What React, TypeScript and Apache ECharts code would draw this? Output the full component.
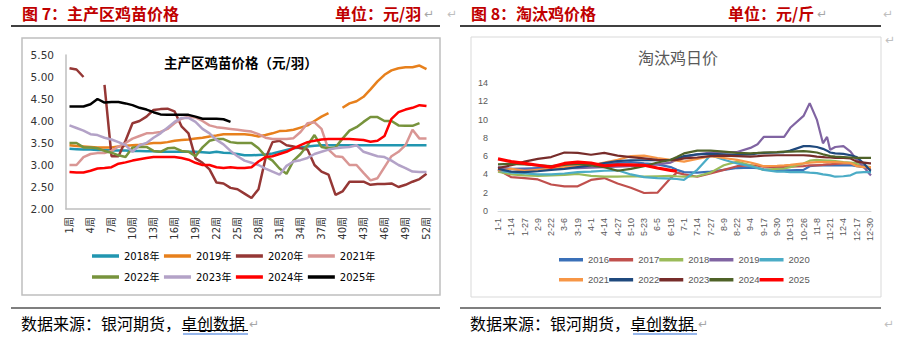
import React, { useEffect, useRef } from "react";
import * as echarts from "echarts";

// ---------- Left chart: 主产区鸡苗价格 (weekly) ----------
const weeks = Array.from({ length: 52 }, (_, i) => `${i + 1}周`);

const y2018 = [3.37, 3.36, 3.35, 3.35, 3.34, 3.34, 3.33, 3.33, 3.33, 3.32, 3.32, 3.31, 3.31, 3.3, 3.3, 3.3, 3.3, 3.3, 3.3, 3.29, 3.28, 3.3, 3.28, 3.27, 3.25, 3.22, 3.22, 3.23, 3.24, 3.26, 3.3, 3.34, 3.38, 3.4, 3.42, 3.44, 3.45, 3.45, 3.45, 3.45, 3.45, 3.45, 3.45, 3.45, 3.45, 3.45, 3.45, 3.45, 3.45, 3.45, 3.45, 3.45];
const y2019 = [3.45, 3.43, 3.42, 3.41, 3.4, 3.4, 3.4, 3.42, 3.44, 3.45, 3.46, 3.48, 3.5, 3.5, 3.52, 3.55, 3.57, 3.58, 3.6, 3.62, 3.65, 3.67, 3.7, 3.7, 3.7, 3.7, 3.68, 3.65, 3.68, 3.72, 3.77, 3.78, 3.8, 3.85, 3.9, 4.0, 4.1, 4.18, null, 4.3, 4.4, 4.45, 4.55, 4.72, 4.9, 5.05, 5.15, 5.2, 5.22, 5.22, 5.26, 5.18];
const y2020 = [5.2, 5.17, 5.0, null, null, 4.82, 3.2, 3.2, 3.55, 3.95, 4.0, 4.1, 4.25, 4.27, 4.28, 4.22, 3.88, 3.72, 3.15, 3.05, 2.9, 2.6, 2.58, 2.48, 2.45, 2.35, 2.25, 2.45, 3.15, 3.52, 3.55, 3.45, 3.42, 3.38, 3.35, 3.0, 2.85, 2.78, 2.32, 2.4, 2.62, 2.62, 2.62, 2.55, 2.57, 2.57, 2.58, 2.5, 2.55, 2.62, 2.68, 2.8];
const y2021 = [3.0, 3.0, 3.18, 3.25, 3.27, 3.27, 3.32, 3.42, 3.5, 3.6, 3.66, 3.72, 3.73, 3.75, 3.82, 3.95, 4.05, 4.1, 4.08, 4.0, 3.9, 3.86, 3.84, 3.82, 3.8, 3.78, 3.76, 3.7, 3.62, 3.59, 3.59, 3.59, 3.61, 3.75, 3.95, 3.97, 3.82, 3.35, 3.2, 3.18, 3.0, 3.0, 2.82, 2.65, 2.7, 2.95, 3.2, 3.3, 3.45, 3.8, 3.6, 3.6];
const y2022 = [3.5, 3.5, 3.4, 3.4, 3.38, 3.32, 3.28, 3.22, 3.18, 3.4, 3.41, 3.41, 3.32, 3.3, 3.38, 3.39, 3.32, 3.3, 3.2, 3.4, 3.55, 3.59, 3.59, 3.52, 3.5, 3.5, 3.5, 3.38, 3.2, 3.1, 2.92, 2.8, 3.1, 3.25, 3.45, 3.68, 3.41, 3.38, 3.4, 3.6, 3.78, 3.86, 3.98, 4.09, 4.09, 4.0, 4.0, 3.9, 3.89, 3.89, 3.95, null];
const y2023 = [3.9, 3.84, 3.78, 3.7, 3.68, 3.62, 3.58, 3.52, 3.45, 3.3, 3.45, 3.5, 3.62, 3.72, 3.85, 3.98, 4.07, 4.07, 3.98, 3.82, 3.72, 3.57, 3.47, 3.32, 3.2, 3.1, 3.05, 3.0, 2.92, 2.85, 2.78, 2.98, 3.08, 3.11, 3.16, 3.25, 3.3, 3.35, 3.38, 3.4, 3.41, 3.45, 3.3, 3.25, 3.2, 3.18, 3.1, 3.0, 2.93, 2.85, 2.84, 2.84];
const y2024 = [2.84, 2.83, 2.83, 2.87, 2.92, 2.93, 2.95, 3.03, 3.06, 3.1, 3.13, 3.16, 3.18, 3.18, 3.18, 3.18, 3.16, 3.12, 3.05, 3.0, 3.0, 2.95, 2.93, 2.95, 2.93, 2.93, 2.95, 3.08, 3.18, 3.2, 3.25, 3.3, 3.38, 3.45, 3.52, 3.55, 3.58, 3.59, 3.59, 3.59, 3.59, 3.58, 3.57, 3.53, 3.55, 3.66, 4.05, 4.2, 4.26, 4.3, 4.36, 4.34];
const y2025 = [4.33, 4.33, 4.33, 4.38, 4.5, 4.42, 4.43, 4.43, 4.4, 4.36, 4.3, 4.26, 4.2, 4.15, 4.14, 4.14, 4.14, 4.14, 4.1, 4.05, 4.05, 4.05, 4.04, 3.98];

const leftNames = ["2018年", "2019年", "2020年", "2021年", "2022年", "2023年", "2024年", "2025年"];
const leftColors = ["#2196b0", "#e7801c", "#953735", "#d99694", "#77933c", "#b3a2c7", "#ff0000", "#000000"];
const leftValues = [y2018, y2019, y2020, y2021, y2022, y2023, y2024, y2025];

// ---------- Right chart: 淘汰鸡日价 (daily, leap-year calendar) ----------
const monthLengths = [31, 29, 31, 30, 31, 30, 31, 31, 30, 31, 30, 31];
const dayLabels: string[] = [];
monthLengths.forEach((n, m) => {
  for (let d = 1; d <= n; d++) dayLabels.push(`${m + 1}-${d}`);
});

// day indices (0 = 1-1) at which values were read
const sampleDays = [0, 13, 26, 39, 52, 65, 78, 91, 104, 117, 130, 143, 156, 169, 175, 182, 195, 208, 221, 234, 247, 254, 260, 273, 280, 286, 299, 305, 312, 318, 322, 325, 330, 338, 345, 351, 358, 364, 365];

const r2016 = [4.6, 4.6, 4.65, 4.7, 4.75, 4.8, 4.9, 5.0, 5.1, 5.25, 5.35, 5.2, 5.1, 4.8, 4.5, 4.25, 4.2, 4.3, 4.5, 4.7, 4.75, 4.7, 4.55, 4.45, 4.45, 4.45, 4.5, 4.9, 5.0, 5.0, 5.0, 5.0, 5.0, 5.0, 5.0, 4.9, 4.8, 4.7, 4.7];
const r2017 = [4.5, 3.7, 3.6, 3.45, 2.9, 2.7, 2.7, 3.4, 3.6, 3.0, 2.55, 1.97, 2.0, 3.6, 4.2, 4.0, 3.75, 4.1, 4.5, 4.9, 5.0, 4.95, 4.85, 4.8, 4.8, 4.85, 4.9, 5.0, 5.0, 5.05, 5.1, 5.1, 5.15, 5.2, 5.2, 5.0, 4.8, 4.6, 4.6];
const r2018 = [4.3, 4.0, 3.9, 3.85, 3.9, 3.95, 4.05, 3.85, 3.75, 3.75, 3.8, 3.75, 3.8, 3.85, 3.8, 3.75, 3.8, 4.2, 5.0, 5.4, 5.0, 4.7, 4.5, 4.6, 4.65, 4.8, 5.2, 5.5, 5.6, 5.55, 5.5, 5.5, 5.45, 5.35, 5.3, 5.2, 4.95, 4.8, 4.8];
const r2019 = [4.8, 4.6, 4.5, 4.55, 4.6, 4.7, 4.7, 4.75, 4.8, 4.85, 4.9, 5.0, 5.1, 5.3, 5.6, 5.9, 6.2, 6.4, 6.45, 6.45, 6.9, 7.3, 8.1, 8.1, 8.1, 9.1, 10.4, 11.8, 10.0, 7.4, 8.1, 6.7, 7.0, 7.1, 6.5, 5.6, 4.8, 4.0, 3.9];
const r2020 = [4.4, 4.2, 4.1, 4.0, 4.0, 4.1, 4.25, 4.3, 4.4, 4.45, 4.0, 3.7, 3.6, 3.55, 3.5, 3.4, 4.5, 6.1, 5.6, 5.2, 4.9, 4.7, 4.5, 4.3, 4.3, 4.25, 4.25, 4.2, 4.15, 4.0, 3.95, 3.9, 3.75, 3.8, 3.9, 4.2, 4.25, 4.25, 4.25];
const r2021 = [4.4, 4.6, 4.4, 4.5, 4.6, 4.8, 4.9, 5.0, 5.3, 5.6, 6.0, 6.05, 5.8, 5.6, 5.5, 5.4, 5.7, 6.0, 5.8, 5.6, 5.3, 5.1, 4.9, 4.95, 5.0, 5.05, 5.2, 5.3, 5.35, 5.35, 5.35, 5.35, 5.35, 5.3, 5.25, 4.9, 4.8, 4.8, 4.8];
const r2022 = [4.6, 4.3, 4.25, 4.35, 4.5, 4.6, 4.8, 5.0, 5.25, 5.45, 5.55, 5.55, 5.55, 5.6, 5.75, 6.0, 6.2, 6.25, 6.2, 6.15, 6.2, 6.3, 6.35, 6.4, 6.45, 6.6, 7.1, 7.1, 7.0, 6.8, 6.6, 6.4, 6.3, 6.25, 6.1, 5.9, 5.2, 4.45, 4.4];
const r2023 = [4.7, 5.0, 5.4, 5.7, 5.9, 6.4, 6.35, 6.15, 6.35, 6.05, 5.9, 5.75, 5.6, 5.55, 5.6, 5.75, 5.85, 6.0, 6.05, 6.0, 5.95, 6.0, 6.05, 6.1, 6.1, 6.1, 6.1, 6.05, 5.95, 5.9, 5.85, 5.85, 5.8, 5.8, 5.75, 5.4, 5.3, 5.2, 5.2];
const r2024 = [5.1, 5.15, 5.1, 5.0, 4.9, 5.05, 5.15, 5.0, 4.8, 4.4, 4.6, 4.9, 5.3, 5.6, 5.9, 6.3, 6.6, 6.6, 6.5, 6.35, 6.3, 6.35, 6.4, 6.45, 6.5, 6.5, 6.55, 6.5, 6.4, 6.2, 6.1, 6.0, 5.95, 5.9, 5.85, 5.8, 5.8, 5.8, 5.8];
const r2025 = [5.7, 5.4, 5.2, 5.0, 4.8, 5.2, 5.35, 5.25, 4.95, 5.05, 5.05, 5.0, 4.7, 4.45, 4.35];

const rightNames = ["2016", "2017", "2018", "2019", "2020", "2021", "2022", "2023", "2024", "2025"];
const rightColors = ["#3a70b8", "#c0504d", "#9bbb59", "#8064a2", "#4bacc6", "#f79646", "#1f497d", "#772c2a", "#4f6228", "#ff0000"];
const rightValues = [r2016, r2017, r2018, r2019, r2020, r2021, r2022, r2023, r2024, r2025];

const CJK = "'Noto Sans CJK SC'";
const LEFT_FONT = "'DejaVu Sans', 'Noto Sans CJK SC'";
const RIGHT_FONT = "'Liberation Sans', 'Noto Sans CJK SC'";

function txt(text: string, x: number, y: number, opts: any = {}) {
  return {
    type: "text",
    x,
    y,
    silent: true,
    style: {
      text,
      fill: opts.fill || "#000",
      fontSize: opts.fontSize || 16,
      fontWeight: opts.fontWeight || "normal",
      fontFamily: opts.fontFamily || CJK,
      verticalAlign: "middle",
      align: opts.align || "left",
    },
  };
}
function ln(x1: number, y1: number, x2: number, y2: number, stroke: string, lineWidth: number) {
  return { type: "line", silent: true, shape: { x1, y1, x2, y2 }, style: { stroke, lineWidth } };
}

export default function App() {
  const ref = useRef<HTMLDivElement>(null);
  useEffect(() => {
    if (!ref.current) return;
    const chart = echarts.init(ref.current, null, { renderer: "svg" });

    const leftSeries = leftNames.map((name, i) => ({
      name,
      type: "line",
      xAxisIndex: 0,
      yAxisIndex: 0,
      data: leftValues[i],
      symbol: "none",
      connectNulls: false,
      lineStyle: { width: 2.5, color: leftColors[i] },
      itemStyle: { color: leftColors[i] },
    }));
    const rightSeries = rightNames.map((name, i) => ({
      name,
      type: "line",
      xAxisIndex: 1,
      yAxisIndex: 1,
      data: rightValues[i].map((v, k) => [sampleDays[k], v]),
      symbol: "none",
      lineStyle: { width: name === "2025" ? 3.2 : 2.2, color: rightColors[i] },
      itemStyle: { color: rightColors[i] },
    }));

    const legendBase = {
      icon: "rect",
      itemHeight: 3.5,
      selectedMode: false,
      orient: "horizontal",
      padding: 0,
    };

    const option: any = {
      animation: false,
      backgroundColor: "#ffffff",
      title: [
        {
          text: "主产区鸡苗价格（元/羽）",
          left: 164,
          top: 55,
          padding: 0,
          textStyle: { fontSize: 13.5, fontWeight: "bold", color: "#000", fontFamily: CJK },
        },
        {
          text: "淘汰鸡日价",
          left: 638,
          top: 49,
          padding: 0,
          textStyle: { fontSize: 16, fontWeight: "normal", color: "#595959", fontFamily: CJK },
        },
      ],
      legend: [
        {
          ...legendBase,
          data: leftNames.slice(0, 4),
          left: 92,
          top: 251,
          itemWidth: 27,
          itemGap: 4.5,
          textStyle: { fontSize: 10, color: "#000", fontFamily: LEFT_FONT },
        },
        {
          ...legendBase,
          data: leftNames.slice(4),
          left: 92,
          top: 272,
          itemWidth: 27,
          itemGap: 4.5,
          textStyle: { fontSize: 10, color: "#000", fontFamily: LEFT_FONT },
        },
        {
          ...legendBase,
          data: rightNames.slice(0, 5),
          left: 559,
          top: 255,
          itemWidth: 24,
          itemGap: 0,
          textStyle: { fontSize: 9.5, color: "#595959", fontFamily: RIGHT_FONT },
        },
        {
          ...legendBase,
          data: rightNames.slice(5),
          left: 559,
          top: 275,
          itemWidth: 24,
          itemGap: 0,
          textStyle: { fontSize: 9.5, color: "#595959", fontFamily: RIGHT_FONT },
        },
      ],
      grid: [
        { left: 66, top: 55, width: 364, height: 154, containLabel: false },
        { left: 498, top: 83, width: 373, height: 128, containLabel: false },
      ],
      xAxis: [
        {
          gridIndex: 0,
          type: "category",
          data: weeks,
          boundaryGap: true,
          axisLine: { lineStyle: { color: "#bfbfbf", width: 1.5 } },
          axisTick: { show: false },
          axisLabel: {
            interval: 2,
            rotate: 90,
            fontSize: 10,
            color: "#333",
            margin: 8,
            fontFamily: LEFT_FONT,
          },
          splitLine: { show: false },
        },
        {
          gridIndex: 1,
          type: "category",
          data: dayLabels,
          boundaryGap: false,
          axisLine: { lineStyle: { color: "#d9d9d9", width: 1 } },
          axisTick: { show: false },
          axisLabel: {
            interval: 12,
            rotate: 90,
            fontSize: 9,
            color: "#595959",
            margin: 7,
            fontFamily: RIGHT_FONT,
          },
          splitLine: { show: false },
        },
      ],
      yAxis: [
        {
          gridIndex: 0,
          type: "value",
          min: 2,
          max: 5.5,
          interval: 0.5,
          axisLine: { show: true, lineStyle: { color: "#bfbfbf", width: 1.5 } },
          axisTick: { show: false },
          splitLine: { show: false },
          axisLabel: {
            formatter: (v: number) => v.toFixed(2),
            fontSize: 10.5,
            color: "#333",
            margin: 12,
            fontFamily: LEFT_FONT,
          },
        },
        {
          gridIndex: 1,
          type: "value",
          min: 0,
          max: 14,
          interval: 2,
          axisLine: { show: false },
          axisTick: { show: false },
          splitLine: { show: false },
          axisLabel: { fontSize: 9, color: "#595959", margin: 10, fontFamily: RIGHT_FONT },
        },
      ],
      graphic: [
        // headers
        txt("图 7：主产区鸡苗价格", 22, 13, { fill: "#c00000", fontWeight: "bold" }),
        txt("单位：元/羽", 335, 13, { fill: "#c00000", fontWeight: "bold" }),
        txt("↵", 424, 14, { fill: "#a6a6a6", fontSize: 12, fontFamily: "'DejaVu Sans'" }),
        txt("↵", 447, 14, { fill: "#bfbfbf", fontSize: 12, fontFamily: "'DejaVu Sans'" }),
        ln(11, 26, 440, 26, "#000", 1.5),
        txt("图 8：淘汰鸡价格", 471, 13, { fill: "#c00000", fontWeight: "bold" }),
        txt("单位：元/斤", 728, 13, { fill: "#c00000", fontWeight: "bold" }),
        txt("↵", 817, 14, { fill: "#a6a6a6", fontSize: 12, fontFamily: "'DejaVu Sans'" }),
        txt("↵", 883, 14, { fill: "#bfbfbf", fontSize: 12, fontFamily: "'DejaVu Sans'" }),
        ln(460, 26, 881, 26, "#000", 1.5),
        // chart boxes
        {
          type: "rect",
          silent: true,
          shape: { x: 22, y: 38, width: 418, height: 257 },
          style: { fill: "none", stroke: "#bfbfbf", lineWidth: 1.5 },
        },
        {
          type: "rect",
          silent: true,
          shape: { x: 471, y: 37, width: 410, height: 260 },
          style: { fill: "none", stroke: "#d9d9d9", lineWidth: 1 },
        },
        txt("↵", 885, 40, { fill: "#bfbfbf", fontSize: 12, fontFamily: "'DejaVu Sans'" }),
        // footers
        ln(11, 308, 440, 308, "#000", 1.2),
        ln(460, 308, 881, 308, "#000", 1.2),
        txt("数据来源：银河期货，卓创数据", 21, 323, { fontSize: 16 }),
        ln(183, 330.5, 248, 330.5, "#000", 1),
        ln(183, 334, 248, 334, "#2f6fd8", 1.2),
        txt("↵", 249, 324, { fill: "#a6a6a6", fontSize: 12, fontFamily: "'DejaVu Sans'" }),
        txt("数据来源：银河期货，卓创数据", 470, 323, { fontSize: 16 }),
        ln(633, 330.5, 697, 330.5, "#000", 1),
        ln(633, 334, 697, 334, "#2f6fd8", 1.2),
        txt("↵", 698, 324, { fill: "#a6a6a6", fontSize: 12, fontFamily: "'DejaVu Sans'" }),
        txt("↵", 884, 324, { fill: "#bfbfbf", fontSize: 12, fontFamily: "'DejaVu Sans'" }),
      ],
      series: [...leftSeries, ...rightSeries],
    };

    chart.setOption(option);
    return () => chart.dispose();
  }, []);

  return (
    <div
      ref={ref}
      style={{ position: "fixed", left: 0, top: 0, width: 912, height: 342, background: "#fff" }}
    />
  );
}
